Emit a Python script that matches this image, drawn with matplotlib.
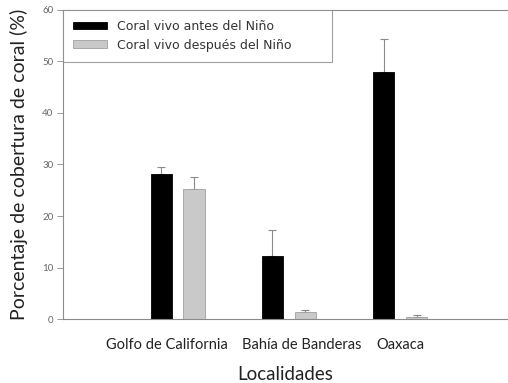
import matplotlib.pyplot as plt
import matplotlib.transforms as mtransforms
import numpy as np

plt.rcParams["font.family"] = ["Lato", "DejaVu Sans"]

localidades = ["Golfo de California", "Bahía de Banderas", "Oaxaca"]
antes = [28.2, 12.3, 47.9]
antes_err = [1.4, 4.9, 6.5]
despues = [25.3, 1.4, 0.4]
despues_err = [2.3, 0.3, 0.3]

x = np.arange(1, len(localidades) + 1)
width = 0.19
offset = 0.148
grey = "#8a8a8a"

fig = plt.figure(figsize=(5.08, 3.83), dpi=100)
ax = fig.add_axes([0.124, 0.167, 0.876, 0.807])

# error bars sit behind the bars so only the upper whisker shows
ax.errorbar(x - offset, antes, yerr=[np.zeros(3), antes_err], fmt="none",
            ecolor=grey, elinewidth=0.8, capsize=3, capthick=0.8, zorder=1)
ax.errorbar(x + offset, despues, yerr=[np.zeros(3), despues_err], fmt="none",
            ecolor=grey, elinewidth=0.8, capsize=3, capthick=0.8, zorder=1)
ax.bar(x - offset, antes, width, color="black", edgecolor="black", linewidth=0.6,
       label="Coral vivo antes del Niño", zorder=2)
ax.bar(x + offset, despues, width, color="#c9c9c9", edgecolor="#a0a0a0", linewidth=0.6,
       label="Coral vivo después del Niño", zorder=2)

ax.set_xlim(-0.03, 3.97)
ax.set_ylim(0, 60)
ax.set_yticks(range(0, 61, 10))
ax.set_xticks(x)
ax.set_xticklabels(localidades, fontsize=10.5, color="#222222")
ax.tick_params(axis="x", length=0, pad=14)
ax.tick_params(axis="y", length=4, width=0.6, color=grey, labelsize=7, labelcolor="#666666", pad=3)

# nudge the long category names apart so they don't collide
for lbl, dx in zip(ax.get_xticklabels(), [-11, 13, 0]):
    lbl.set_transform(lbl.get_transform() + mtransforms.ScaledTranslation(dx / 100, 0, fig.dpi_scale_trans))

for side in ("left", "bottom", "top"):
    ax.spines[side].set_color(grey)
    ax.spines[side].set_linewidth(0.8)
ax.spines["right"].set_visible(False)

ax.set_xlabel("Localidades", fontsize=13.5, labelpad=10, color="#222222")
ax.set_ylabel("Porcentaje de cobertura de coral (%)", fontsize=14, labelpad=10, color="#222222")

leg = ax.legend(loc="upper left", bbox_to_anchor=(0, 0.5, 0.604, 0.5), mode="expand",
                borderaxespad=0, prop={"family": "DejaVu Sans", "size": 9},
                frameon=True, fancybox=False, handlelength=2.7, handleheight=0.56,
                handletextpad=0.8, borderpad=0.8, labelspacing=0.45)
leg.get_frame().set_edgecolor(grey)
leg.get_frame().set_linewidth(0.8)
for t in leg.get_texts():
    t.set_color("#333333")

fig.savefig("out.png", dpi=100)
